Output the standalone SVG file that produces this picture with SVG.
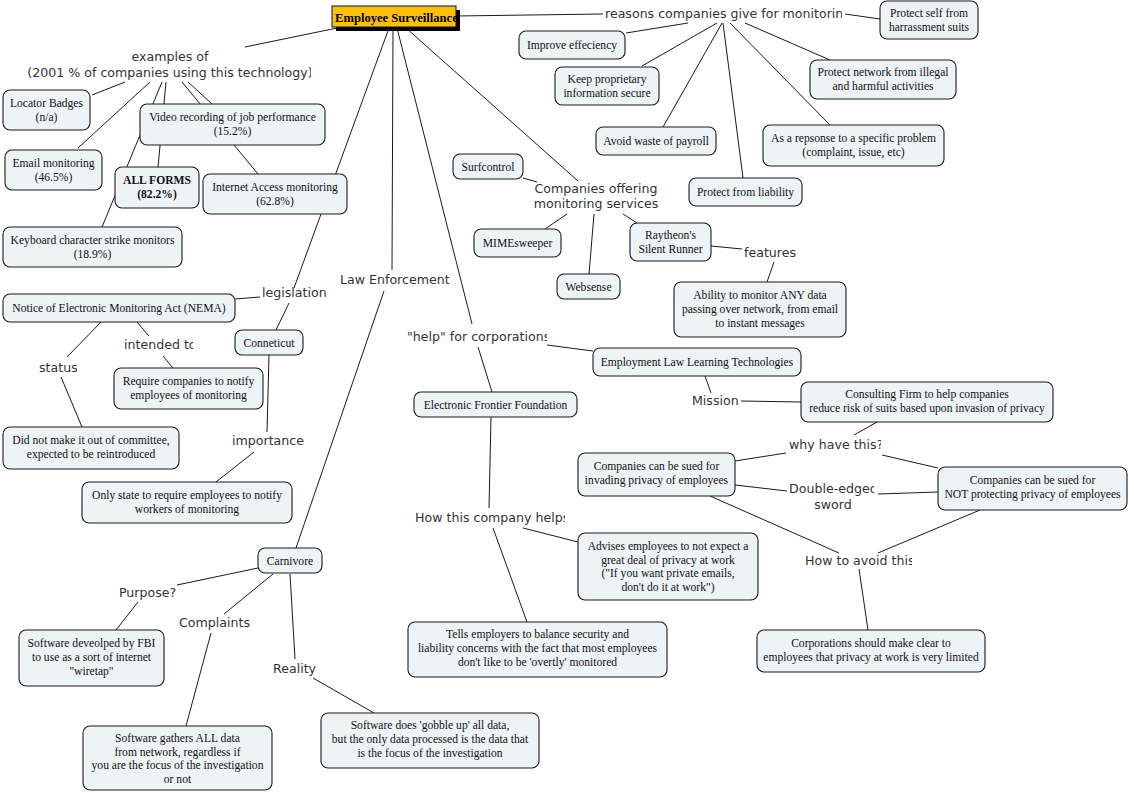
<svg xmlns="http://www.w3.org/2000/svg" width="1134" height="793" viewBox="0 0 1134 793">
<style>
.bg{fill:#ffffff}
.c line{stroke:#1a1a1a;stroke-width:1}
.n rect{fill:#eef3f6;stroke:#1a1a1a;stroke-width:1.1}
.n text{font-family:"Liberation Serif","Times New Roman",serif;font-size:11.6px;fill:#111;text-anchor:middle}
.b{font-weight:bold}
.l{font-family:"DejaVu Sans","Liberation Sans",sans-serif;font-size:12.6px;fill:#333}
.m{text-anchor:middle}
</style>
<defs>
<clipPath id="cRoot"><rect x="332" y="6" width="124" height="21"/></clipPath>
<clipPath id="cEx"><rect x="0" y="40" width="311" height="45"/></clipPath>
<clipPath id="cRe"><rect x="600" y="0" width="242" height="25"/></clipPath>
<clipPath id="cLeg"><rect x="258" y="283" width="68" height="20"/></clipPath>
<clipPath id="cInt"><rect x="120" y="335" width="73" height="20"/></clipPath>
<clipPath id="cSt"><rect x="35" y="358" width="42" height="20"/></clipPath>
<clipPath id="cLaw"><rect x="336" y="270" width="113" height="20"/></clipPath>
<clipPath id="cHelp"><rect x="403" y="327" width="144" height="20"/></clipPath>
<clipPath id="cWhy"><rect x="785" y="435" width="96" height="20"/></clipPath>
<clipPath id="cDbl"><rect x="785" y="479" width="89" height="18"/></clipPath>
<clipPath id="cHow"><rect x="411" y="508" width="154" height="20"/></clipPath>
<clipPath id="cAv"><rect x="801" y="551" width="111" height="20"/></clipPath>
<clipPath id="cPur"><rect x="115" y="583" width="62" height="20"/></clipPath>
</defs>
<rect class="bg" x="0" y="0" width="1134" height="793"/>

<g id="connectors" class="c">
<line x1="337" y1="28" x2="245" y2="47"/>
<line x1="456" y1="16" x2="603" y2="14"/>
<line x1="389" y1="28" x2="294" y2="288"/>
<line x1="393" y1="28" x2="392" y2="270"/>
<line x1="397" y1="28" x2="472" y2="324"/>
<line x1="406" y1="28" x2="578" y2="181"/>
<line x1="125" y1="82" x2="92" y2="95"/>
<line x1="150" y1="82" x2="78" y2="148"/>
<line x1="162" y1="82" x2="102" y2="227"/>
<line x1="166" y1="82" x2="158" y2="167"/>
<line x1="182" y1="82" x2="258" y2="174"/>
<line x1="188" y1="82" x2="212" y2="104"/>
<line x1="688" y1="23" x2="626" y2="33"/>
<line x1="717" y1="23" x2="642" y2="66"/>
<line x1="722" y1="23" x2="663" y2="127"/>
<line x1="723" y1="23" x2="743" y2="178"/>
<line x1="730" y1="23" x2="830" y2="125"/>
<line x1="745" y1="23" x2="830" y2="60"/>
<line x1="845" y1="14" x2="880" y2="19"/>
<line x1="537" y1="182" x2="523" y2="178"/>
<line x1="567" y1="214" x2="545" y2="229"/>
<line x1="594" y1="214" x2="589" y2="274"/>
<line x1="623" y1="214" x2="637" y2="223"/>
<line x1="711" y1="246" x2="742" y2="249"/>
<line x1="774" y1="262" x2="767" y2="282"/>
<line x1="260" y1="297" x2="235" y2="299"/>
<line x1="289" y1="303" x2="276" y2="330"/>
<line x1="269" y1="355" x2="267" y2="432"/>
<line x1="254" y1="452" x2="216" y2="482"/>
<line x1="137" y1="322" x2="149" y2="336"/>
<line x1="163" y1="356" x2="173" y2="368"/>
<line x1="101" y1="322" x2="67" y2="357"/>
<line x1="61" y1="377" x2="82" y2="427"/>
<line x1="384" y1="291" x2="296" y2="548"/>
<line x1="478" y1="347" x2="492" y2="392"/>
<line x1="547" y1="345" x2="593" y2="351"/>
<line x1="491" y1="417" x2="489" y2="508"/>
<line x1="523" y1="528" x2="578" y2="542"/>
<line x1="493" y1="528" x2="527" y2="622"/>
<line x1="705" y1="376" x2="711" y2="393"/>
<line x1="741" y1="401" x2="801" y2="402"/>
<line x1="877" y1="422" x2="854" y2="435"/>
<line x1="786" y1="453" x2="735" y2="461"/>
<line x1="882" y1="455" x2="938" y2="468"/>
<line x1="735" y1="485" x2="787" y2="491"/>
<line x1="878" y1="494" x2="938" y2="492"/>
<line x1="710" y1="496" x2="839" y2="553"/>
<line x1="980" y1="510" x2="878" y2="553"/>
<line x1="859" y1="569" x2="868" y2="630"/>
<line x1="258" y1="568" x2="177" y2="585"/>
<line x1="138" y1="602" x2="116" y2="630"/>
<line x1="273" y1="574" x2="224" y2="614"/>
<line x1="211" y1="633" x2="186" y2="726"/>
<line x1="290" y1="574" x2="295" y2="659"/>
<line x1="313" y1="678" x2="374" y2="713"/>
</g>

<g id="labels">
<g id="l-examples"><g clip-path="url(#cEx)"><text class="l m" x="170" y="61">examples of</text><text class="l m" x="170" y="77">(2001 % of companies using this technology)</text></g></g>
<g id="l-reasons"><text class="l" x="605" y="18" clip-path="url(#cRe)">reasons companies give for monitoring</text></g>
<g id="l-companies"><text class="l m" x="596" y="193">Companies offering</text><text class="l m" x="596" y="208">monitoring services</text></g>
<g id="l-features"><text class="l" x="744" y="257">features</text></g>
<g id="l-legislation"><text class="l" x="262" y="297" clip-path="url(#cLeg)">legislation</text></g>
<g id="l-intended"><text class="l" x="124" y="349" clip-path="url(#cInt)">intended to</text></g>
<g id="l-status"><text class="l" x="39" y="372" clip-path="url(#cSt)">status</text></g>
<g id="l-importance"><text class="l" x="232" y="445">importance</text></g>
<g id="l-law"><text class="l" x="340" y="284" clip-path="url(#cLaw)">Law Enforcement</text></g>
<g id="l-help"><text class="l" x="407" y="341" clip-path="url(#cHelp)">"help" for corporations</text></g>
<g id="l-mission"><text class="l" x="692" y="405">Mission</text></g>
<g id="l-why"><text class="l" x="789" y="449" clip-path="url(#cWhy)">why have this?</text></g>
<g id="l-double"><text class="l" x="789" y="493" clip-path="url(#cDbl)">Double-edged</text><text class="l m" x="833" y="509">sword</text></g>
<g id="l-howhelps"><text class="l" x="415" y="522" clip-path="url(#cHow)">How this company helps</text></g>
<g id="l-howavoid"><text class="l" x="805" y="565" clip-path="url(#cAv)">How to avoid this?</text></g>
<g id="l-purpose"><text class="l" x="119" y="597" clip-path="url(#cPur)">Purpose?</text></g>
<g id="l-complaints"><text class="l" x="179" y="627">Complaints</text></g>
<g id="l-reality"><text class="l" x="273" y="673">Reality</text></g>
</g>

<g id="root">
<rect x="336" y="10" width="124" height="21" fill="#000"/>
<rect x="332" y="6" width="124" height="21" fill="#fbbf0c" stroke="#111" stroke-width="1"/>
<text x="335" y="21.5" clip-path="url(#cRoot)" font-family="Liberation Serif, serif" font-size="12.6" font-weight="bold" fill="#000">Employee Surveillance</text>
</g>

<g id="locator" class="n"><rect x="3" y="90" width="87" height="40" rx="7"/><text x="46.5" y="107">Locator Badges</text><text x="46.5" y="121">(n/a)</text></g>
<g id="video" class="n"><rect x="140" y="104" width="185" height="41" rx="7"/><text x="232.5" y="121">Video recording of job performance</text><text x="232.5" y="135">(15.2%)</text></g>
<g id="email" class="n"><rect x="5" y="150" width="97" height="40" rx="7"/><text x="53.5" y="167">Email monitoring</text><text x="53.5" y="181">(46.5%)</text></g>
<g id="allforms" class="n"><rect x="115" y="167" width="84" height="41" rx="7"/><text class="b" x="157" y="184">ALL FORMS</text><text class="b" x="157" y="198">(82.2%)</text></g>
<g id="internet" class="n"><rect x="203" y="174" width="144" height="40" rx="7"/><text x="275" y="191">Internet Access monitoring</text><text x="275" y="205">(62.8%)</text></g>
<g id="keyboard" class="n"><rect x="3" y="227" width="179" height="40" rx="7"/><text x="92.5" y="244">Keyboard character strike monitors</text><text x="92.5" y="258">(18.9%)</text></g>

<g id="nema" class="n"><rect x="3" y="294" width="232" height="28" rx="7"/><text x="119" y="312">Notice of Electronic Monitoring Act (NEMA)</text></g>
<g id="conneticut" class="n"><rect x="235" y="330" width="68" height="25" rx="7"/><text x="269" y="346.5">Conneticut</text></g>
<g id="require" class="n"><rect x="114" y="368" width="149" height="41" rx="7"/><text x="188.5" y="385">Require companies to notify</text><text x="188.5" y="399">employees of monitoring</text></g>
<g id="didnot" class="n"><rect x="3" y="427" width="176" height="42" rx="7"/><text x="91" y="444">Did not make it out of committee,</text><text x="91" y="458">expected to be reintroduced</text></g>
<g id="onlystate" class="n"><rect x="82" y="482" width="210" height="41" rx="7"/><text x="187" y="499">Only state to require employees to notify</text><text x="187" y="513">workers of monitoring</text></g>

<g id="improve" class="n"><rect x="519" y="31" width="106" height="28" rx="7"/><text x="572" y="49">Improve effeciency</text></g>
<g id="keep" class="n"><rect x="555" y="67" width="104" height="38" rx="7"/><text x="607" y="83">Keep proprietary</text><text x="607" y="97">information secure</text></g>
<g id="avoid" class="n"><rect x="596" y="127" width="120" height="28" rx="7"/><text x="656" y="145">Avoid waste of payroll</text></g>
<g id="liability" class="n"><rect x="689" y="178" width="113" height="28" rx="7"/><text x="745.5" y="196">Protect from liability</text></g>
<g id="response" class="n"><rect x="763" y="125" width="181" height="41" rx="7"/><text x="853.5" y="142">As a repsonse to a specific problem</text><text x="853.5" y="156">(complaint, issue, etc)</text></g>
<g id="network" class="n"><rect x="810" y="60" width="146" height="39" rx="7"/><text x="883" y="76">Protect network from illegal</text><text x="883" y="90">and harmful activities</text></g>
<g id="protectself" class="n"><rect x="880" y="1" width="98" height="38" rx="7"/><text x="929" y="17">Protect self from</text><text x="929" y="31">harrassment suits</text></g>

<g id="surfcontrol" class="n"><rect x="453" y="154" width="70" height="25" rx="7"/><text x="488" y="170.5">Surfcontrol</text></g>
<g id="mimesweeper" class="n"><rect x="474" y="229" width="87" height="28" rx="7"/><text x="517.5" y="247">MIMEsweeper</text></g>
<g id="websense" class="n"><rect x="557" y="274" width="63" height="25" rx="7"/><text x="588.5" y="290.5">Websense</text></g>
<g id="raytheon" class="n"><rect x="630" y="223" width="81" height="38" rx="7"/><text x="670.5" y="239">Raytheon's</text><text x="670.5" y="253">Silent Runner</text></g>
<g id="ability" class="n"><rect x="674" y="282" width="172" height="55" rx="7"/><text x="760" y="299">Ability to monitor ANY data</text><text x="760" y="313">passing over network, from email</text><text x="760" y="327">to instant messages</text></g>

<g id="employment" class="n"><rect x="593" y="348" width="208" height="28" rx="7"/><text x="697" y="366">Employment Law Learning Technologies</text></g>
<g id="eff" class="n"><rect x="414" y="392" width="163" height="25" rx="7"/><text x="495.5" y="408.5">Electronic Frontier Foundation</text></g>
<g id="consulting" class="n"><rect x="801" y="382" width="252" height="40" rx="7"/><text x="927" y="398">Consulting Firm to help companies</text><text x="927" y="412">reduce risk of suits based upon invasion of privacy</text></g>
<g id="invading" class="n"><rect x="578" y="453" width="157" height="43" rx="7"/><text x="656.5" y="470">Companies can be sued for</text><text x="656.5" y="484">invading privacy of employees</text></g>
<g id="notprotecting" class="n"><rect x="938" y="467" width="189" height="43" rx="7"/><text x="1032.5" y="484">Companies can be sued for</text><text x="1032.5" y="498">NOT protecting privacy of employees</text></g>
<g id="advises" class="n"><rect x="578" y="533" width="180" height="67" rx="7"/><text x="668" y="550">Advises employees to not expect a</text><text x="668" y="563.5">great deal of privacy at work</text><text x="668" y="577">("If you want private emails,</text><text x="668" y="590.5">don't do it at work")</text></g>
<g id="tells" class="n"><rect x="408" y="622" width="259" height="55" rx="7"/><text x="537.5" y="638">Tells employers to balance security and</text><text x="537.5" y="652">liability concerns with the fact that most employees</text><text x="537.5" y="666">don't like to be 'overtly' monitored</text></g>
<g id="corporations" class="n"><rect x="757" y="630" width="228" height="42" rx="7"/><text x="871" y="647">Corporations should make clear to</text><text x="871" y="661">employees that privacy at work is very limited</text></g>

<g id="carnivore" class="n"><rect x="258" y="548" width="64" height="25" rx="7"/><text x="290" y="564.5">Carnivore</text></g>
<g id="fbi" class="n"><rect x="19" y="630" width="145" height="56" rx="7"/><text x="91.5" y="647">Software deveolped by FBI</text><text x="91.5" y="661">to use as a sort of internet</text><text x="91.5" y="675">"wiretap"</text></g>
<g id="gathers" class="n"><rect x="83" y="726" width="189" height="64" rx="7"/><text x="177.5" y="742">Software gathers ALL data</text><text x="177.5" y="755.5">from network, regardless if</text><text x="177.5" y="769">you are the focus of the investigation</text><text x="177.5" y="782.5">or not</text></g>
<g id="gobble" class="n"><rect x="321" y="713" width="218" height="55" rx="7"/><text x="430" y="729">Software does 'gobble up' all data,</text><text x="430" y="743">but the only data processed is the data that</text><text x="430" y="757">is the focus of the investigation</text></g>
</svg>
